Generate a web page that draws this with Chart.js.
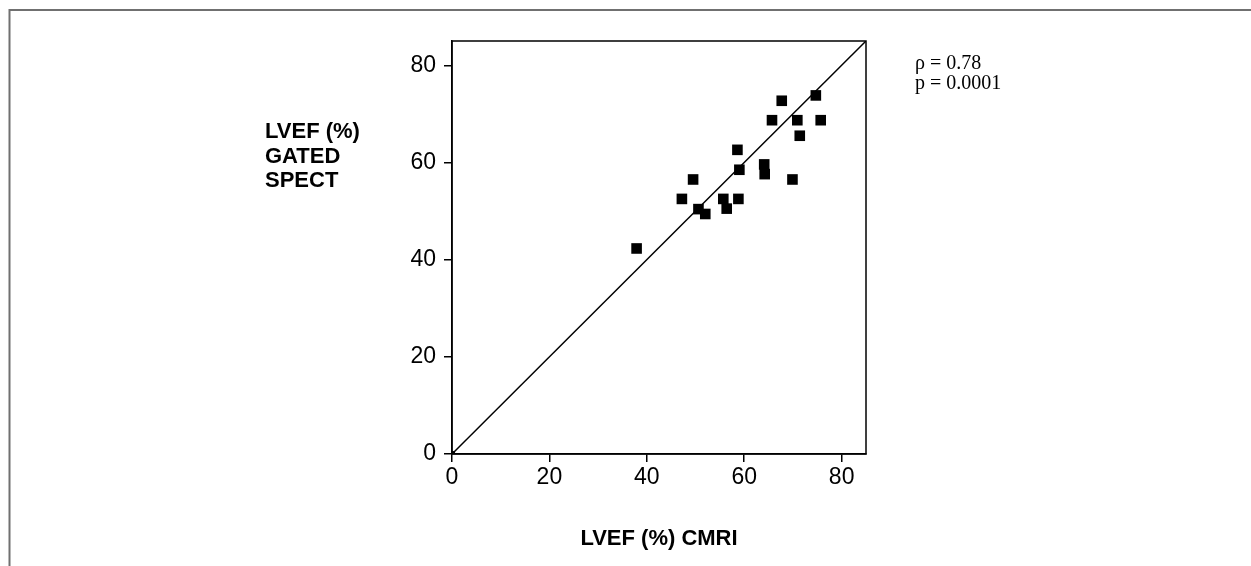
<html>
  <head>
    <script src="https://cdn.jsdelivr.net/npm/chart.js@4.4.0/dist/chart.umd.min.js"></script>
    <style>
      body { margin:0; background:#fff; }
      #chart { display:block; }
    </style>
  </head>
  <body>
    <canvas id="chart" width="1251" height="566"></canvas>

  <script>
    // LVEF values: CMRI (x) vs gated SPECT (y)
    var cmri  = [37.9, 47.2, 49.5, 50.6, 52.0, 55.7, 56.4, 58.6, 59.0, 58.8,
                 64.1, 64.2, 65.7, 67.7, 69.9, 70.9, 71.4, 74.7, 75.7];
    var spect = [42.3, 52.5, 56.5, 50.4, 49.4, 52.5, 50.5, 62.6, 58.5, 52.5,
                 59.6, 57.6, 68.7, 72.7, 56.5, 68.7, 65.5, 73.8, 68.7];
    // line of identity
    var identX = [0, 85];
    var identY = [0, 85];
    var tickVals = [0, 20, 40, 60, 80];
    var axisMax = 85;
    var yTitle = ['LVEF (%)', 'GATED', 'SPECT'];
    var xTitle = 'LVEF (%) CMRI';
    var stats = ['\u03C1 = 0.78', 'p = 0.0001'];

    var pts = [];
    for (var i = 0; i < cmri.length; i++) {
      pts.push({x: cmri[i], y: spect[i]});
    }
    var ident = [];
    for (var j = 0; j < identX.length; j++) {
      ident.push({x: identX[j], y: identY[j]});
    }

    function keepTicks(scale) {
      scale.ticks = tickVals.map(function (v) { return {value: v}; });
    }

    // frame, plot box and the text round the plot
    var decor = {
      id: 'decor',
      beforeDraw: function (chart) {
        var c = chart.ctx;
        c.save();
        c.strokeStyle = '#707070';
        c.lineWidth = 2;
        c.beginPath();
        c.moveTo(1251, 10);
        c.lineTo(9.5, 10);
        c.lineTo(9.5, 566);
        c.stroke();
        c.restore();
      },
      afterDraw: function (chart) {
        var c = chart.ctx;
        var a = chart.chartArea;
        c.save();
        c.strokeStyle = '#000';
        c.lineWidth = 1.5;
        c.strokeRect(a.left, a.top, a.right - a.left, a.bottom - a.top);

        c.fillStyle = '#000';
        c.textBaseline = 'middle';
        c.font = 'bold 22px "Liberation Sans", Arial, sans-serif';
        c.textAlign = 'left';
        for (var k = 0; k < yTitle.length; k++) {
          c.fillText(yTitle[k], 265, 132 + k * 24.7);
        }
        c.textAlign = 'center';
        c.fillText(xTitle, (a.left + a.right) / 2, 539);

        c.textAlign = 'left';
        c.font = '20px "Liberation Serif", "Times New Roman", serif';
        c.fillText(stats[0], 915, 64);
        c.fillText(stats[1], 915, 84);
        c.restore();
      }
    };

    new Chart(document.getElementById('chart'), {
      type: 'scatter',
      data: {
        datasets: [
          {
            data: pts,
            pointStyle: 'rect',
            pointRadius: 7.5,
            pointHoverRadius: 7.5,
            backgroundColor: '#000',
            borderColor: '#000',
            borderWidth: 0
          },
          {
            type: 'line',
            data: ident,
            borderColor: '#000',
            borderWidth: 1.5,
            pointRadius: [2.5, 0],
            pointBackgroundColor: '#000',
            fill: false
          }
        ]
      },
      options: {
        responsive: false,
        animation: false,
        devicePixelRatio: 1,
        layout: { padding: { left: 0, right: 385, top: 41, bottom: 0 } },
        plugins: {
          legend: { display: false },
          tooltip: { enabled: false }
        },
        scales: {
          x: {
            type: 'linear',
            min: 0,
            max: axisMax,
            bounds: 'data',
            afterBuildTicks: keepTicks,
            afterFit: function (s) { s.height = 112; },
            grid: { drawOnChartArea: false, drawTicks: true, tickLength: 8, color: '#000', lineWidth: 1.5 },
            border: { display: true, color: '#000', width: 1.5 },
            ticks: { color: '#000', padding: 2, maxRotation: 0,
                     font: { family: '"Liberation Sans", Arial, sans-serif', size: 23 } }
          },
          y: {
            type: 'linear',
            min: 0,
            max: axisMax,
            bounds: 'data',
            afterBuildTicks: keepTicks,
            afterFit: function (s) { s.width = 452; },
            grid: { drawOnChartArea: false, drawTicks: true, tickLength: 8, color: '#000', lineWidth: 1.5 },
            border: { display: true, color: '#000', width: 1.5 },
            ticks: { color: '#000', padding: 8,
                     font: { family: '"Liberation Sans", Arial, sans-serif', size: 23 } }
          }
        }
      },
      plugins: [decor]
    });
  </script>
  </body>
</html>
